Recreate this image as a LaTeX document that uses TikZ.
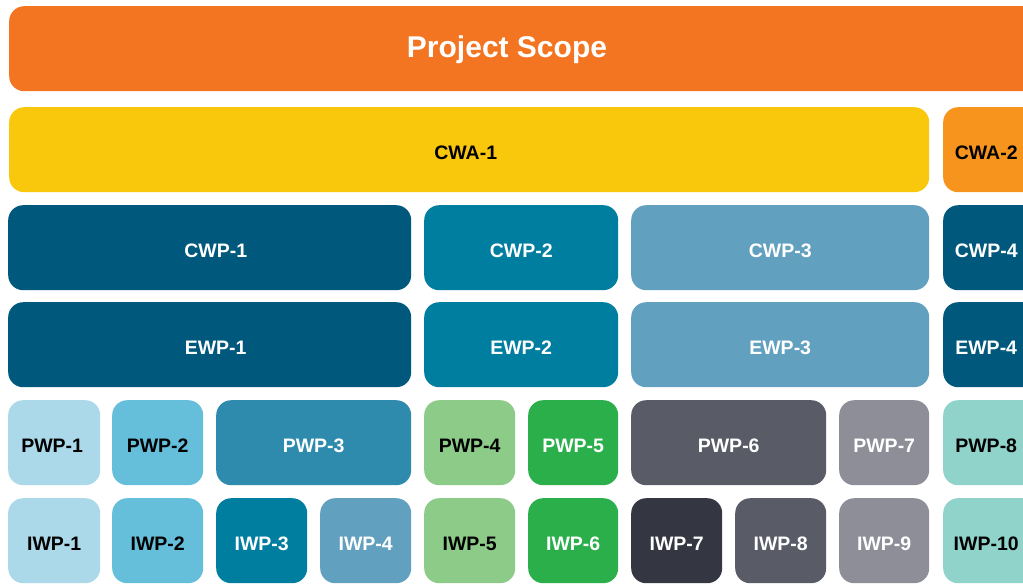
\documentclass[tikz,border=0pt]{standalone}
\usepackage{fontspec}
\setmainfont{Liberation Sans}
\definecolor{scopeorange}{HTML}{F37421}
\definecolor{cwayellow}{HTML}{F9C70C}
\definecolor{cwaorange}{HTML}{F7941E}
\definecolor{navyblue}{HTML}{00587C}
\definecolor{tealblue}{HTML}{007EA0}
\definecolor{steelblue}{HTML}{62A0BF}
\definecolor{paleblue}{HTML}{ABD9EA}
\definecolor{skyblue}{HTML}{65BFDA}
\definecolor{midblue}{HTML}{2E8BAE}
\definecolor{palegreen}{HTML}{8CCB88}
\definecolor{leafgreen}{HTML}{2BAF4B}
\definecolor{slategrey}{HTML}{595C66}
\definecolor{lightgrey}{HTML}{8D8E98}
\definecolor{charcoal}{HTML}{343741}
\definecolor{mintgreen}{HTML}{8FD3CB}
\tikzset{
  wpbox/.style={rectangle, rounded corners=15pt, draw=none, anchor=north west,
    minimum height=85pt, inner sep=0pt, text height=19.5pt, text depth=0pt,
    font=\fontsize{19.5}{23}\selectfont\bfseries},
  darktext/.style={text=black},
  lighttext/.style={text=white}
}
% #1 name, #2 x, #3 y, #4 width, #5 fill, #6 text style, #7 label
\newcommand\workpkg[7]{\node[wpbox, fill=#5, #6, minimum width=#4pt] (#1) at (#2,#3) {#7};}
\begin{document}
\begin{tikzpicture}[x=1pt,y=-1pt]
\useasboundingbox (0,0) rectangle (1023,584);
\clip (0,0) rectangle (1023,584);
% top level
\node[wpbox, fill=scopeorange, minimum width=1030pt, minimum height=85pt] (scope) at (9,6) {};
\node[font=\fontsize{30}{36}\selectfont\bfseries, text=white, anchor=base, inner sep=0pt] (scopelabel) at (507,57.5) {Project Scope};
% construction work areas
\workpkg{cwa1}{9}{107}{920}{cwayellow}{darktext}{CWA-1\hspace*{7pt}}
\workpkg{cwa2}{943}{107}{100}{cwaorange}{darktext}{CWA-2\hspace*{14pt}}
% construction work packages
\workpkg{cwp1}{8}{205}{403}{navyblue}{lighttext}{\hspace*{12pt}CWP-1}
\workpkg{cwp2}{424}{205}{194}{tealblue}{lighttext}{CWP-2}
\workpkg{cwp3}{631}{205}{298}{steelblue}{lighttext}{CWP-3}
\workpkg{cwp4}{943}{205}{100}{navyblue}{lighttext}{CWP-4\hspace*{14pt}}
% engineering work packages
\workpkg{ewp1}{8}{302}{403}{navyblue}{lighttext}{\hspace*{12pt}EWP-1}
\workpkg{ewp2}{424}{302}{194}{tealblue}{lighttext}{EWP-2}
\workpkg{ewp3}{631}{302}{298}{steelblue}{lighttext}{EWP-3}
\workpkg{ewp4}{943}{302}{100}{navyblue}{lighttext}{EWP-4\hspace*{14pt}}
% procurement work packages
\workpkg{pwp1}{8}{400}{92}{paleblue}{darktext}{PWP-1\hspace*{4pt}}
\workpkg{pwp2}{112}{400}{91}{skyblue}{darktext}{PWP-2}
\workpkg{pwp3}{216}{400}{195}{midblue}{lighttext}{PWP-3}
\workpkg{pwp4}{424}{400}{91}{palegreen}{darktext}{PWP-4}
\workpkg{pwp5}{528}{400}{90}{leafgreen}{lighttext}{PWP-5}
\workpkg{pwp6}{631}{400}{195}{slategrey}{lighttext}{PWP-6}
\workpkg{pwp7}{839}{400}{90}{lightgrey}{lighttext}{PWP-7}
\workpkg{pwp8}{943}{400}{100}{mintgreen}{darktext}{PWP-8\hspace*{14pt}}
% installation work packages
\workpkg{iwp1}{8}{498}{92}{paleblue}{darktext}{IWP-1}
\workpkg{iwp2}{112}{498}{91}{skyblue}{darktext}{IWP-2}
\workpkg{iwp3}{216}{498}{91}{tealblue}{lighttext}{IWP-3}
\workpkg{iwp4}{320}{498}{91}{steelblue}{lighttext}{IWP-4}
\workpkg{iwp5}{424}{498}{91}{palegreen}{darktext}{IWP-5}
\workpkg{iwp6}{528}{498}{90}{leafgreen}{lighttext}{IWP-6}
\workpkg{iwp7}{631}{498}{91}{charcoal}{lighttext}{IWP-7}
\workpkg{iwp8}{735}{498}{91}{slategrey}{lighttext}{IWP-8}
\workpkg{iwp9}{839}{498}{90}{lightgrey}{lighttext}{IWP-9}
\workpkg{iwp10}{943}{498}{100}{mintgreen}{darktext}{IWP-10\hspace*{14pt}}
\end{tikzpicture}
\end{document}
